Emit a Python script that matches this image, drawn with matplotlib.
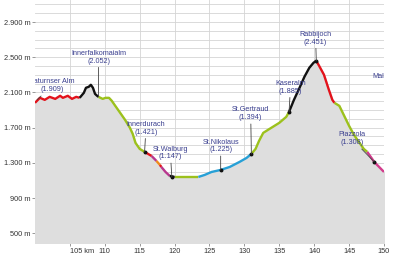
import numpy as np
import matplotlib
import matplotlib.pyplot as plt
from matplotlib.ticker import MultipleLocator

# Höhenprofil (km, m)
km = np.array([100, 100.7, 101.4, 102.1, 102.9, 103.6, 104, 104.7, 105.3, 105.9,
               106.4, 107, 107.3, 107.7, 108, 108.3, 108.6, 108.9, 109.1, 109.7,
               110.1, 110.6, 111, 111.4, 112.1, 112.9, 113.6, 114, 114.4, 115,
               115.7, 116.7, 117.4, 117.9, 118.1, 118.7, 119.3, 120, 121.4, 123.4,
               124.3, 125.3, 126.6, 127.9, 129.3, 130.3, 131, 131.6, 132.1, 132.7,
               133.6, 135, 136, 136.4, 137.1, 137.9, 138.6, 139.3, 139.9, 140.3,
               140.7, 141.4, 142.1, 142.6, 142.9, 143.6, 144.3, 145, 145.7, 146.4,
               147.1, 147.6, 148.1, 148.6, 149.3, 150])
elev = np.array([1982, 2039, 2016, 2050, 2027, 2062, 2039, 2062, 2027, 2050,
                 2039, 2096, 2153, 2164, 2187, 2153, 2084, 2062, 2050, 2027,
                 2039, 2039, 2005, 1959, 1880, 1789, 1698, 1629, 1527, 1459,
                 1425, 1379, 1322, 1277, 1254, 1197, 1152, 1140, 1140, 1140,
                 1163, 1197, 1220, 1254, 1311, 1356, 1402, 1459, 1550, 1641,
                 1686, 1755, 1823, 1880, 2016, 2153, 2278, 2380, 2437, 2460,
                 2403, 2301, 2130, 2016, 1982, 1948, 1834, 1720, 1618, 1538,
                 1459, 1425, 1368, 1311, 1254, 1197])

# Farbabschnitte der Linie (von km, bis km, Farbe)
seg_start = [100, 106.4, 109.1, 115.7, 116.7, 117.4, 117.9, 118.1, 119.3, 120,
             123.4, 131, 136.4, 140.3, 142.9, 147.6]
seg_end = [106.4, 109.1, 115.7, 116.7, 117.4, 117.9, 118.1, 119.3, 120, 123.4,
           131, 136.4, 140.3, 142.9, 147.6, 150]
seg_color = ['#e3121b', '#111111', '#9cc11c', '#e3121b', '#b8378e', '#f08a1c',
             '#e3121b', '#b8378e', '#111111', '#9cc11c', '#27a0d6', '#9cc11c',
             '#111111', '#e3121b', '#9cc11c', '#d23c8c']

# Orte
names = ['Saturnser Alm', 'Innerfalkomaialm', 'Innerdurach', 'St.Walburg',
         'St.Nikolaus', 'St.Gertraud', 'Kaseralm', 'Rabbijoch', 'Piazzola']
heights = ['1.909', '2.052', '1.421', '1.147', '1.225', '1.394', '1.885', '2.451', '1.308']
pt_km = [100.3, 109.1, 115.7, 119.6, 126.6, 131, 136.4, 140.3, 148.6]
pt_elev = [2016, 2050, 1425, 1140, 1220, 1402, 1880, 2460, 1311]
lab_km = [102.4, 109.1, 115.9, 119.4, 126.6, 130.9, 136.6, 140.2, 145.4]
lab_elev = [2175, 2500, 1692, 1413, 1493, 1857, 2158, 2716, 1573]

y_ticks = [500, 900, 1300, 1700, 2100, 2500, 2900]
x_ticks = [105, 110, 115, 120, 125, 130, 135, 140, 145, 150]

matplotlib.rc('font', family=['Liberation Sans', 'DejaVu Sans'])
fig = plt.figure(figsize=(3.99, 2.64), dpi=100)
ax = fig.add_axes([0.0877, 0.0795, 0.8747, 0.9205])

ymin, ymax = 390, 3150
ax.set_xlim(100, 150)
ax.set_ylim(ymin, ymax)

# Gitter
ax.xaxis.set_major_locator(MultipleLocator(5))
ax.yaxis.set_minor_locator(MultipleLocator(100))
ax.grid(True, which='both', color='#d4d4d4', lw=0.6)
ax.set_axisbelow(True)

ax.fill_between(km, elev, ymin, color='#dedede', zorder=2)

for a, b, c in zip(seg_start, seg_end, seg_color):
    m = (km >= a) & (km <= b)
    ax.plot(km[m], elev[m], color=c, lw=1.7, solid_capstyle='butt', zorder=3)

ax.plot(pt_km[2:], pt_elev[2:], 'o', color='#111111', ms=1.8, zorder=4)

for n, h, px, py, lx, ly in zip(names, heights, pt_km, pt_elev, lab_km, lab_elev):
    ax.annotate(n + '\n(' + h + ')', xy=(px, py), xytext=(lx, ly),
                ha='center', va='center', fontsize=5.2, color='#3a3f8f',
                linespacing=1.15, annotation_clip=False, clip_on=True,
                arrowprops=dict(arrowstyle='-', color='#444444', lw=0.6,
                                shrinkA=0, shrinkB=0), zorder=5)

ax.text(148.3, 2278, 'Mals', fontsize=5.2, color='#3a3f8f', ha='left',
        va='center', clip_on=True)

# Achsen
ax.set_yticks(y_ticks)
ax.set_yticklabels([f'{v:,} m'.replace(',', '.') for v in y_ticks])
ax.set_xticks(x_ticks)
ax.set_xticklabels(['105 km'] + [str(v) for v in x_ticks[1:]])
ax.get_xticklabels()[0].set_ha('left')
ax.tick_params(which='major', labelsize=5.3, length=2, width=0.6,
               color='#888888', labelcolor='#333333', pad=1.5)
ax.tick_params(which='minor', length=0)
for s in ax.spines.values():
    s.set_visible(False)

plt.savefig('out.png', dpi=100)
